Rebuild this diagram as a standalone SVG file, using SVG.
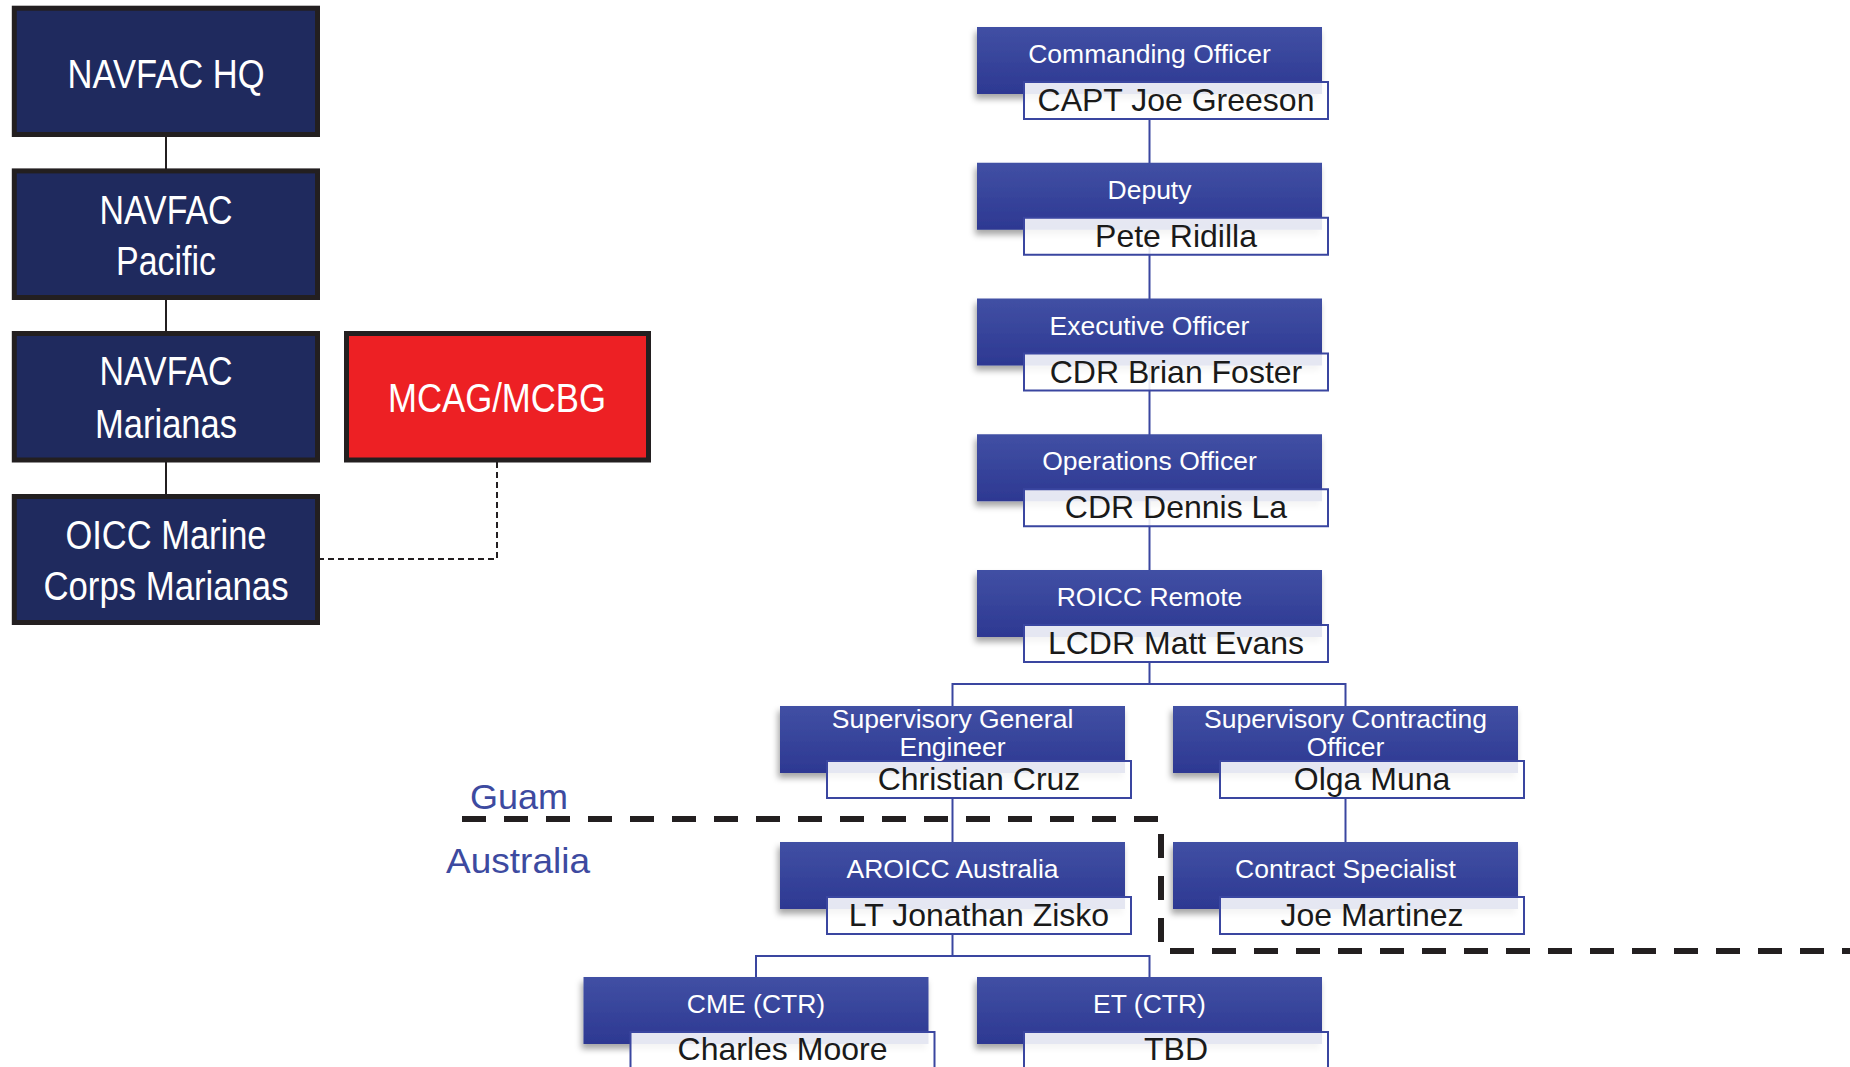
<svg xmlns="http://www.w3.org/2000/svg" width="1850" height="1067" viewBox="0 0 1850 1067">
<defs>
<linearGradient id="bg" x1="0" y1="0" x2="0" y2="1">
<stop offset="0" stop-color="#4150a4"/>
<stop offset="1" stop-color="#2d3892"/>
</linearGradient>
<filter id="sh" x="-10%" y="-10%" width="130%" height="140%">
<feDropShadow dx="-2" dy="5" stdDeviation="3" flood-color="#000" flood-opacity="0.35"/>
</filter>
<style>
.nb{fill:#1f2a5e;stroke:#231f20;stroke-width:5}
.rb{fill:#ed2024;stroke:#231f20;stroke-width:5}
.lt{font-family:"Liberation Sans",Arial,sans-serif;font-size:40px;fill:#fff;text-anchor:middle}
.bb{fill:url(#bg);filter:url(#sh)}
.nm{fill:#fff;fill-opacity:0.88;stroke:#3a46a0;stroke-width:2}
.tt{font-family:"Liberation Sans",Arial,sans-serif;font-size:26.5px;fill:#fff;text-anchor:middle}
.nt{font-family:"Liberation Sans",Arial,sans-serif;font-size:32px;fill:#1a1a1a;text-anchor:middle}
.cn{fill:none;stroke:#3a46a0;stroke-width:2}
.ck{fill:none;stroke:#231f20;stroke-width:2}
.dk{fill:none;stroke:#231f20;stroke-width:2;stroke-dasharray:6 4}
.bd{fill:none;stroke:#231f20;stroke-width:6;stroke-dasharray:24 18}
.lb{font-family:"Liberation Sans",Arial,sans-serif;font-size:35px;fill:#3d4aa0}
</style>
</defs>
<rect width="1850" height="1067" fill="#fff"/>

<g id="connectors">
<line class="ck" x1="166" y1="137" x2="166" y2="169"/>
<line class="ck" x1="166" y1="300" x2="166" y2="331"/>
<line class="ck" x1="166" y1="462" x2="166" y2="494"/>
<polyline class="dk" points="497,462 497,559 320,559"/>
<line class="cn" x1="1149.5" y1="119" x2="1149.5" y2="570"/>
<polyline class="cn" points="1149.5,662 1149.5,684"/>
<polyline class="cn" points="952.5,706 952.5,684 1345.5,684 1345.5,706"/>
<line class="cn" x1="952.5" y1="798" x2="952.5" y2="842"/>
<line class="cn" x1="1345.5" y1="798" x2="1345.5" y2="842"/>
<line class="cn" x1="952.5" y1="934" x2="952.5" y2="956"/>
<polyline class="cn" points="756,977 756,956 1149.5,956 1149.5,977"/>
</g>

<g id="navfac-hq">
<rect class="nb" x="14.3" y="8.2" width="303.2" height="126.3"/>
<text class="lt" x="166" y="88" textLength="197" lengthAdjust="spacingAndGlyphs">NAVFAC HQ</text>
</g>
<g id="navfac-pacific">
<rect class="nb" x="14.3" y="170.9" width="303.2" height="126.6"/>
<text class="lt" x="166" y="224" textLength="133" lengthAdjust="spacingAndGlyphs">NAVFAC</text>
<text class="lt" x="166" y="275" textLength="100" lengthAdjust="spacingAndGlyphs">Pacific</text>
</g>
<g id="navfac-marianas">
<rect class="nb" x="14.3" y="333.5" width="303.2" height="126.5"/>
<text class="lt" x="166" y="385" textLength="133" lengthAdjust="spacingAndGlyphs">NAVFAC</text>
<text class="lt" x="166" y="438" textLength="142" lengthAdjust="spacingAndGlyphs">Marianas</text>
</g>
<g id="oicc">
<rect class="nb" x="14.3" y="496.5" width="303.2" height="126"/>
<text class="lt" x="166" y="548.5" textLength="201" lengthAdjust="spacingAndGlyphs">OICC Marine</text>
<text class="lt" x="166" y="599.5" textLength="245" lengthAdjust="spacingAndGlyphs">Corps Marianas</text>
</g>
<g id="mcag">
<rect class="rb" x="346.5" y="333.5" width="302" height="126.5"/>
<text class="lt" x="497" y="412" textLength="218" lengthAdjust="spacingAndGlyphs">MCAG/MCBG</text>
</g>

<g id="commanding-officer">
<rect class="bb" x="977" y="27" width="345" height="67"/>
<rect class="nm" x="1024" y="82" width="304" height="37"/>
<text class="tt" x="1149.5" y="63">Commanding Officer</text>
<text class="nt" x="1176" y="111">CAPT Joe Greeson</text>
</g>
<g id="deputy">
<rect class="bb" x="977" y="162.75" width="345" height="67"/>
<rect class="nm" x="1024" y="217.75" width="304" height="37"/>
<text class="tt" x="1149.5" y="198.75">Deputy</text>
<text class="nt" x="1176" y="246.75">Pete Ridilla</text>
</g>
<g id="executive-officer">
<rect class="bb" x="977" y="298.5" width="345" height="67"/>
<rect class="nm" x="1024" y="353.5" width="304" height="37"/>
<text class="tt" x="1149.5" y="334.5">Executive Officer</text>
<text class="nt" x="1176" y="382.5">CDR Brian Foster</text>
</g>
<g id="operations-officer">
<rect class="bb" x="977" y="434.25" width="345" height="67"/>
<rect class="nm" x="1024" y="489.25" width="304" height="37"/>
<text class="tt" x="1149.5" y="470.25">Operations Officer</text>
<text class="nt" x="1176" y="518.25">CDR Dennis La</text>
</g>
<g id="roicc-remote">
<rect class="bb" x="977" y="570" width="345" height="67"/>
<rect class="nm" x="1024" y="625" width="304" height="37"/>
<text class="tt" x="1149.5" y="606">ROICC Remote</text>
<text class="nt" x="1176" y="654">LCDR Matt Evans</text>
</g>
<g id="sup-general-engineer">
<rect class="bb" x="780" y="706" width="345" height="67"/>
<rect class="nm" x="827" y="761" width="304" height="37"/>
<text class="tt" x="952.5" y="728">Supervisory General</text>
<text class="tt" x="952.5" y="756">Engineer</text>
<text class="nt" x="979" y="790">Christian Cruz</text>
</g>
<g id="sup-contracting-officer">
<rect class="bb" x="1173" y="706" width="345" height="67"/>
<rect class="nm" x="1220" y="761" width="304" height="37"/>
<text class="tt" x="1345.5" y="728">Supervisory Contracting</text>
<text class="tt" x="1345.5" y="756">Officer</text>
<text class="nt" x="1372" y="790">Olga Muna</text>
</g>
<g id="aroicc-australia">
<rect class="bb" x="780" y="842" width="345" height="67"/>
<rect class="nm" x="827" y="897" width="304" height="37"/>
<text class="tt" x="952.5" y="878">AROICC Australia</text>
<text class="nt" x="979" y="926">LT Jonathan Zisko</text>
</g>
<g id="contract-specialist">
<rect class="bb" x="1173" y="842" width="345" height="67"/>
<rect class="nm" x="1220" y="897" width="304" height="37"/>
<text class="tt" x="1345.5" y="878">Contract Specialist</text>
<text class="nt" x="1372" y="926">Joe Martinez</text>
</g>
<g id="cme">
<rect class="bb" x="583.5" y="977" width="345" height="67"/>
<rect class="nm" x="630.5" y="1032" width="304" height="37"/>
<text class="tt" x="756" y="1013">CME (CTR)</text>
<text class="nt" x="782.5" y="1060">Charles Moore</text>
</g>
<g id="et">
<rect class="bb" x="977" y="977" width="345" height="67"/>
<rect class="nm" x="1024" y="1032" width="304" height="37"/>
<text class="tt" x="1149.5" y="1013">ET (CTR)</text>
<text class="nt" x="1176" y="1060">TBD</text>
</g>

<g id="region-boundary">
<polyline class="bd" points="462,819 1161,819 1161,951 1850,951"/>
<text class="lb" x="470" y="809" textLength="98" lengthAdjust="spacingAndGlyphs">Guam</text>
<text class="lb" x="446" y="873" textLength="144" lengthAdjust="spacingAndGlyphs">Australia</text>
</g>
</svg>
